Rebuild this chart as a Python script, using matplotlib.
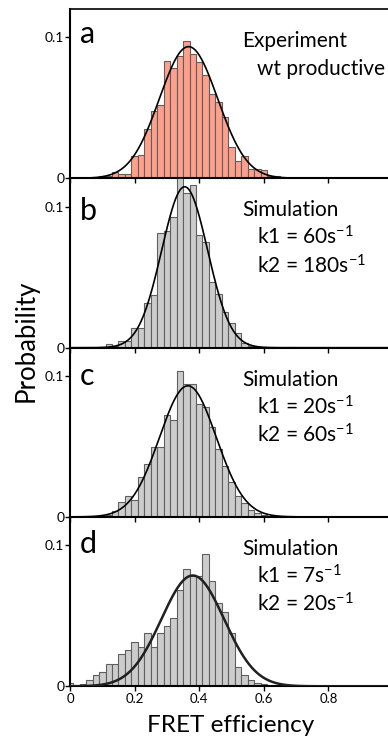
import numpy as np
import matplotlib
matplotlib.use("Agg")
import matplotlib.pyplot as plt

plt.rcParams['font.family'] = ['Lato', 'DejaVu Sans']
plt.rcParams['mathtext.fontset'] = 'custom'
plt.rcParams['mathtext.rm'] = 'Lato'
plt.rcParams['mathtext.default'] = 'regular'

# ---------------- data ----------------
bin_centers = [0.00, 0.02, 0.04, 0.06, 0.08, 0.10, 0.12, 0.14, 0.16, 0.18,
               0.20, 0.22, 0.24, 0.26, 0.28, 0.30, 0.32, 0.34, 0.36, 0.38,
               0.40, 0.42, 0.44, 0.46, 0.48, 0.50, 0.52, 0.54, 0.56, 0.58,
               0.60, 0.62, 0.64, 0.66]

prob_a = [0, 0, 0, 0, 0, 0.0015, 0.0015, 0.0047, 0.0028, 0.0028,
          0.0158, 0.0165, 0.0347, 0.0477, 0.0520, 0.0834, 0.0780, 0.0870, 0.0976, 0.0886,
          0.0825, 0.0733, 0.0596, 0.0543, 0.0433, 0.0220, 0.0123, 0.0160, 0.0067, 0.0063,
          0.0060, 0.0018, 0.0015, 0.0010]

prob_b = [0, 0, 0, 0, 0, 0.0008, 0.0024, 0.0015, 0.0048, 0.0048,
          0.0142, 0.0142, 0.0320, 0.0375, 0.0810, 0.0826, 0.0929, 0.1210, 0.1095, 0.1150,
          0.0796, 0.0748, 0.0463, 0.0380, 0.0252, 0.0178, 0.0102, 0.0030, 0.0010, 0,
          0, 0, 0, 0]

prob_c = [0, 0, 0, 0, 0, 0, 0.0010, 0.0041, 0.0107, 0.0145,
          0.0122, 0.0286, 0.0376, 0.0495, 0.0495, 0.0721, 0.0690, 0.1036, 0.0946, 0.0946,
          0.0798, 0.0780, 0.0640, 0.0480, 0.0360, 0.0250, 0.0150, 0.0100, 0.0050, 0.0030,
          0.0010, 0, 0, 0]

prob_d = [0.0020, 0, 0.0014, 0.0045, 0.0080, 0.0104, 0.0156, 0.0156, 0.0230, 0.0258,
          0.0317, 0.0277, 0.0377, 0.0277, 0.0377, 0.0429, 0.0484, 0.0685, 0.0834, 0.0780,
          0.0780, 0.0934, 0.0744, 0.0590, 0.0524, 0.0377, 0.0139, 0.0080, 0.0045, 0.0026,
          0.0014, 0, 0, 0]

# Gaussian fit parameters (peak height, mean, sigma)
fit_a = (0.0935, 0.367, 0.090)
fit_b = (0.114, 0.355, 0.071)
fit_c = (0.093, 0.365, 0.088)
fit_d = (0.0785, 0.380, 0.097)

panel_letters = ['a', 'b', 'c', 'd']
panel_texts = [
    ['Experiment', 'wt productive'],
    ['Simulation', 'k1 = 60s$^{-1}$', 'k2 = 180s$^{-1}$'],
    ['Simulation', 'k1 = 20s$^{-1}$', 'k2 = 60s$^{-1}$'],
    ['Simulation', 'k1 = 7s$^{-1}$', 'k2 = 20s$^{-1}$'],
]
xtick_vals = [0, 0.2, 0.4, 0.6, 0.8, 1.0]
xtick_labels = ['0', '0.2', '0.4', '0.6', '0.8', '1']
ytick_vals = [0, 0.1]
ytick_labels = ['0', '0.1']

# ---------------- layout ----------------
W, H = 388, 741
fig = plt.figure(figsize=(W / 100, H / 100), dpi=100)

ax_left_px, ax_width_px = 70.0, 323.0
tops_px = [9.3, 178.3, 347.7, 516.9]
bottoms_px = [178.3, 347.7, 516.9, 686.3]
letter_base_px = [43.3, 220.0, 385.0, 553.3]

def fx(px):
    return px / W

def fy(py):
    return 1 - py / H

datasets = [prob_a, prob_b, prob_c, prob_d]
fits = [fit_a, fit_b, fit_c, fit_d]
fills = ['#FFA08C', '#CCCCCC', '#CCCCCC', '#CCCCCC']
curve_colors = ['#000000', '#000000', '#000000', '#202020']
curve_widths = [1.2, 1.2, 1.2, 1.8]

xs = np.linspace(0, 1, 400)
for i in range(4):
    ax = fig.add_axes([fx(ax_left_px), fy(bottoms_px[i]),
                       ax_width_px / W, (bottoms_px[i] - tops_px[i]) / H])
    ax.bar(bin_centers, datasets[i], width=0.02, color=fills[i],
           edgecolor='#5f5f5f', linewidth=0.8, align='center', zorder=2)
    amp, mu, sig = fits[i]
    ax.plot(xs, amp * np.exp(-0.5 * ((xs - mu) / sig) ** 2),
            color=curve_colors[i], lw=curve_widths[i], zorder=3)
    ax.set_xlim(0, 1)
    ax.set_ylim(0, 0.12)
    for s in ['left', 'bottom']:
        ax.spines[s].set_linewidth(1.5)
    ax.spines['top'].set_linewidth(1.2)
    ax.spines['right'].set_linewidth(1.2)
    ax.set_yticks(ytick_vals)
    ax.set_yticklabels(ytick_labels, fontsize=10)
    ax.set_xticks(xtick_vals)
    if i == 3:
        ax.set_xticklabels(xtick_labels, fontsize=9.5)
    else:
        ax.set_xticklabels([])
    ax.tick_params(axis='both', direction='out', length=3.5, width=1.0, pad=1)
    ax.tick_params(axis='y', pad=0.5)
    ax.patch.set_alpha(0)

    # panel letter
    fig.text(fx(80), fy(letter_base_px[i]), panel_letters[i],
             fontsize=22, va='baseline', ha='left')

    # annotation text
    top = tops_px[i]
    lines = panel_texts[i]
    if i == 0:
        fig.text(fx(242), fy(top + 38), lines[0], fontsize=15, va='baseline', ha='left')
        fig.text(fx(257), fy(top + 66), lines[1], fontsize=15, va='baseline', ha='left')
    else:
        fig.text(fx(242), fy(top + 38), lines[0], fontsize=15, va='baseline', ha='left')
        fig.text(fx(257), fy(top + 66.5), lines[1], fontsize=15, va='baseline', ha='left')
        fig.text(fx(257), fy(top + 95), lines[2], fontsize=15, va='baseline', ha='left')

fig.text(fx(26), fy(341), 'Probability',
         rotation=90, fontsize=18.5, va='center', ha='center')
fig.text(fx(231), fy(731.5), 'FRET efficiency', fontsize=17.5,
         va='baseline', ha='center')

fig.savefig('out.png', dpi=100)
